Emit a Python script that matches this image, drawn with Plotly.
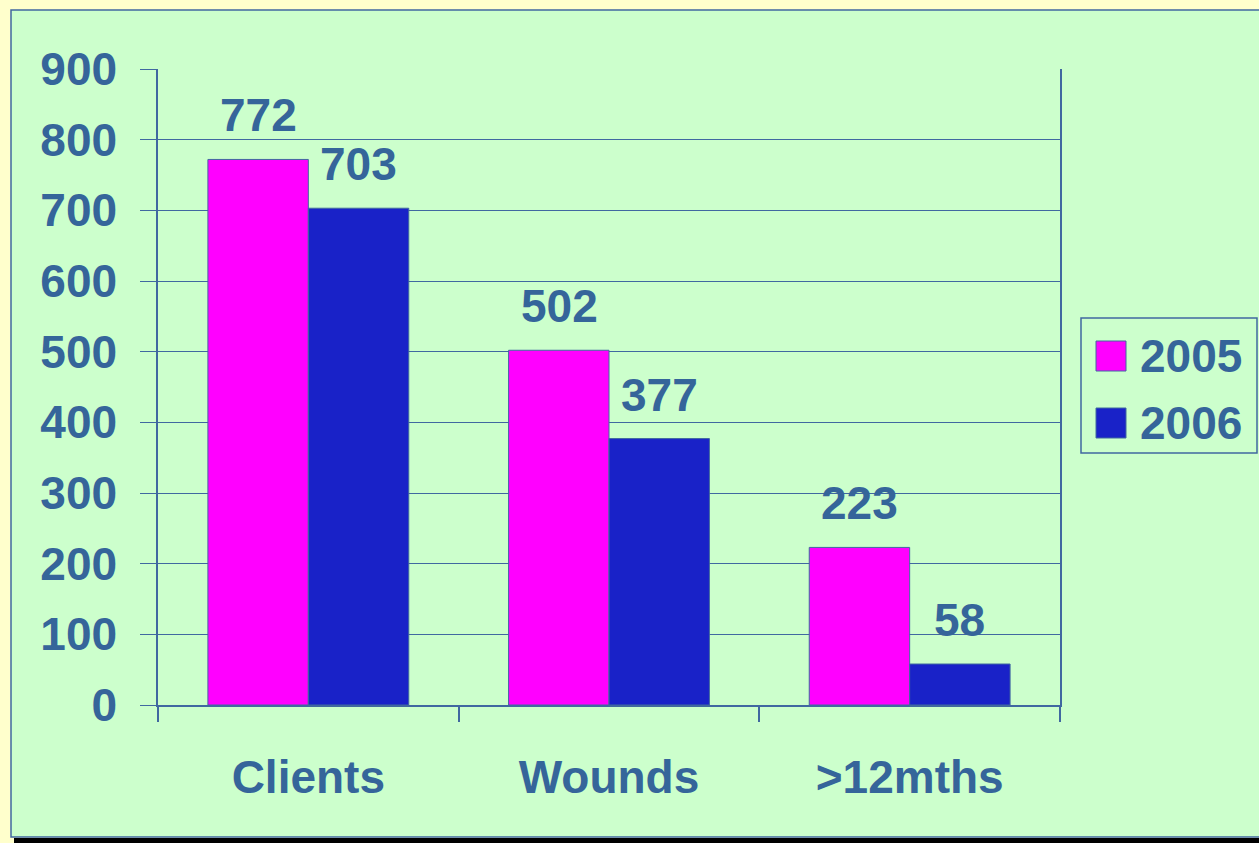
import plotly.graph_objects as go

categories = ["Clients", "Wounds", ">12mths"]
series_names = ["2005", "2006"]
values_2005 = [772, 502, 223]
values_2006 = [703, 377, 58]
y_ticks = [0, 100, 200, 300, 400, 500, 600, 700, 800, 900]

W, H = 1259, 843
L, R, T, B = 158, 1060, 69, 705
TXT = "#35659A"
LINE = "#4068A0"
FONT = "Liberation Sans, Arial, sans-serif"
colors = ["#FF00FF", "#1922C8"]

def px(x):
    return (x - L) / (R - L)

def py(y):
    return (B - y) / (B - T)

fig = go.Figure()
for name, vals, col in zip(series_names, [values_2005, values_2006], colors):
    fig.add_trace(go.Bar(
        x=categories, y=vals, name=name,
        marker=dict(color=col, line=dict(color=LINE, width=1)),
        showlegend=False, hoverinfo="skip",
    ))

annotations = []
for i, (vals, shift) in enumerate(zip([values_2005, values_2006], [-50, 50])):
    for c, v in zip(categories, vals):
        annotations.append(dict(
            x=c, y=v, xref="x", yref="y", text=f"<b>{v}</b>",
            showarrow=False, xshift=shift, yanchor="bottom", yshift=16,
            font=dict(family=FONT, size=46, color=TXT),
        ))

# legend (manual, to get large swatches)
leg_rows = [356, 423]
for name, col, yc in zip(series_names, colors, leg_rows):
    annotations.append(dict(
        x=px(1138), y=py(yc), xref="paper", yref="paper", text=f"<b>{name}</b>",
        showarrow=False, xanchor="left", yanchor="middle",
        font=dict(family=FONT, size=46, color=TXT),
    ))

shapes = [
    # shadow
    dict(type="rect", xref="paper", yref="paper", x0=px(14), x1=px(1300), y0=py(843), y1=py(838),
         fillcolor="black", line=dict(width=0), layer="below"),
    # green panel
    dict(type="rect", xref="paper", yref="paper", x0=px(11), x1=px(1300), y0=py(837), y1=py(10),
         fillcolor="#CCFFCC", line=dict(color=LINE, width=1.5), layer="below"),
    # legend box
    dict(type="rect", xref="paper", yref="paper", x0=px(1081), x1=px(1257), y0=py(453), y1=py(318),
         fillcolor="rgba(0,0,0,0)", line=dict(color=LINE, width=1.5), layer="above"),
]
for col, yc in zip(colors, leg_rows):
    shapes.append(dict(type="rect", xref="paper", yref="paper", x0=px(1096), x1=px(1126),
                       y0=py(yc + 15), y1=py(yc - 15), fillcolor=col,
                       line=dict(color=LINE, width=1), layer="above"))

fig.update_layout(
    width=W, height=H,
    margin=dict(l=L, r=W - R, t=T, b=H - B, pad=0),
    paper_bgcolor="#FFFFCC",
    plot_bgcolor="rgba(0,0,0,0)",
    barmode="group", bargap=0.332, bargroupgap=0,
    font=dict(family=FONT, size=46, color=TXT),
    annotations=annotations,
    shapes=shapes,
    showlegend=False,
    hovermode=False,
)
fig.update_xaxes(
    type="category", showline=True, linecolor=LINE, linewidth=1.5,
    ticks="outside", tickson="boundaries", ticklen=15, tickcolor=LINE, tickwidth=1.5,
    showgrid=False, mirror=False,
    tickfont=dict(family=FONT, size=46, color=TXT),
    ticklabelstandoff=31,
    tickvals=categories, ticktext=[f"<b>{c}</b>" for c in categories],
)
fig.update_yaxes(
    range=[0, 900], tickvals=y_ticks, ticktext=[f"<b>{t}</b>" for t in y_ticks],
    showline=True, linecolor=LINE, linewidth=1.5, mirror=True,
    showgrid=True, gridcolor=LINE, gridwidth=1.2, zeroline=False,
    ticks="outside", ticklen=16, tickcolor=LINE, tickwidth=1.2,
    tickfont=dict(family=FONT, size=46, color=TXT),
    ticklabelstandoff=14,
)
fig.write_html(
    "out.html",
    config={"displayModeBar": False},
    post_script="document.body.style.margin='0';document.body.style.overflow='hidden';",
)
